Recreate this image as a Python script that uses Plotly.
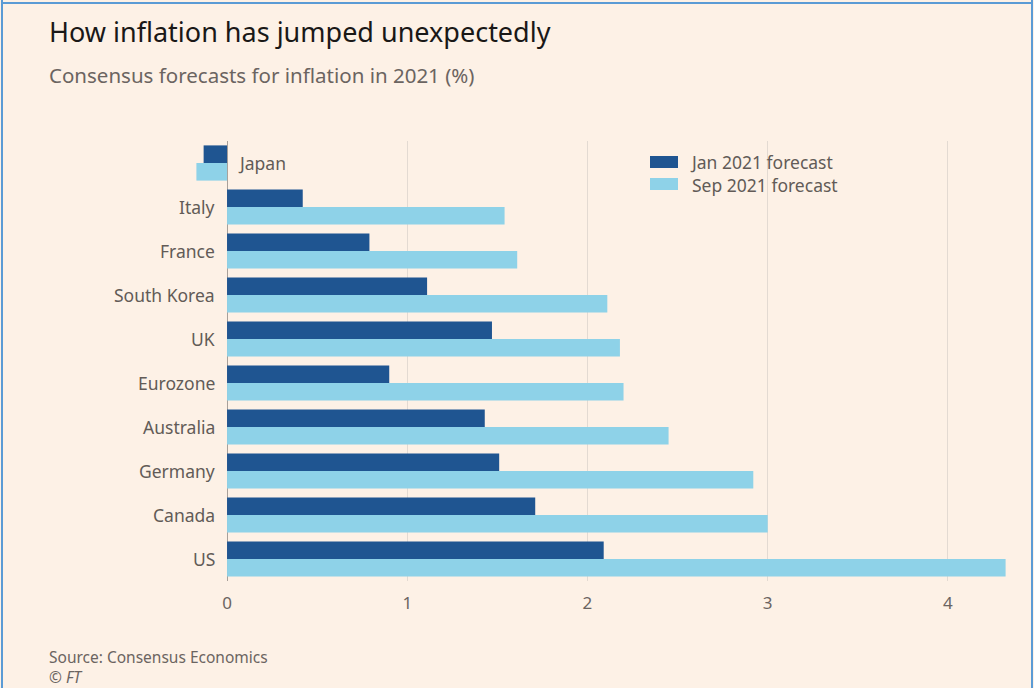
import plotly.graph_objects as go

countries = ["Japan", "Italy", "France", "South Korea", "UK", "Eurozone",
             "Australia", "Germany", "Canada", "US"]
jan_2021 = [-0.13, 0.42, 0.79, 1.11, 1.47, 0.90, 1.43, 1.51, 1.71, 2.09]
sep_2021 = [-0.17, 1.54, 1.61, 2.11, 2.18, 2.20, 2.45, 2.92, 3.00, 4.32]
x_ticks = [0, 1, 2, 3, 4]
series_names = ["Jan 2021 forecast", "Sep 2021 forecast"]

BG = "#FDF1E6"
DARK = "#1F5591"
LIGHT = "#8ED2E8"
FONT = "Noto Sans"
LABEL = "#625B57"

W, H = 1034, 688
L, R, T, B = 191, 23, 141, 107
pw, ph = W - L - R, H - T - B


def px(x):
    return (x - L) / pw


def py(y):
    return (H - y - B) / ph


fig = go.Figure()
fig.add_trace(go.Bar(y=countries, x=jan_2021, orientation="h", name=series_names[0],
                     marker=dict(color=DARK, line=dict(width=0)), showlegend=False))
fig.add_trace(go.Bar(y=countries, x=sep_2021, orientation="h", name=series_names[1],
                     marker=dict(color=LIGHT, line=dict(width=0)), showlegend=False))

annotations = []
for c, j in zip(countries, jan_2021):
    neg = j < 0
    annotations.append(dict(x=0, y=c, xref="x", yref="y", text=c, showarrow=False,
                            xanchor="left" if neg else "right", xshift=9 if neg else -10,
                            font=dict(size=17.5, color=LABEL, family=FONT)))

annotations += [
    dict(x=px(47), y=py(32), xref="paper", yref="paper", text="How inflation has jumped unexpectedly",
         showarrow=False, xanchor="left", yanchor="middle", font=dict(size=27, color="#1A1817", family=FONT)),
    dict(x=px(47), y=py(75), xref="paper", yref="paper", text="Consensus forecasts for inflation in 2021 (%)",
         showarrow=False, xanchor="left", yanchor="middle", font=dict(size=20.5, color="#6B6461", family=FONT)),
    dict(x=px(47), y=py(657), xref="paper", yref="paper", text="Source: Consensus Economics",
         showarrow=False, xanchor="left", yanchor="middle", font=dict(size=15.5, color="#6B6461", family=FONT)),
    dict(x=px(47), y=py(677), xref="paper", yref="paper", text="© <i>FT</i>",
         showarrow=False, xanchor="left", yanchor="middle", font=dict(size=15.5, color="#6B6461", family=FONT)),
]

# custom legend: one two-line text block plus two swatches
legend_colors = [DARK, LIGHT]
legend_rows = [162, 184]
shapes = []
for yc, col in zip(legend_rows, legend_colors):
    shapes.append(dict(type="rect", xref="paper", yref="paper", x0=px(650), x1=px(678),
                       y0=py(yc - 6), y1=py(yc + 6), fillcolor=col, line=dict(width=0)))
annotations.append(dict(x=px(688), y=py(173), xref="paper", yref="paper",
                        text="<br>".join(series_names), align="left",
                        showarrow=False, xanchor="left", yanchor="middle",
                        font=dict(size=17.5, color=LABEL, family=FONT)))

shapes += [
    dict(type="line", xref="paper", yref="paper", x0=px(2), x1=px(2),
         y0=py(H), y1=py(0), line=dict(color="#5B9BD5", width=2)),
    dict(type="line", xref="paper", yref="paper", x0=px(1032), x1=px(1032),
         y0=py(H), y1=py(0), line=dict(color="#5B9BD5", width=2)),
    dict(type="line", xref="paper", yref="paper", x0=px(2), x1=px(1032),
         y0=py(3), y1=py(3), line=dict(color="#5B9BD5", width=2)),
]

fig.update_layout(
    width=W, height=H,
    margin=dict(l=L, r=R, t=T, b=B, pad=0),
    paper_bgcolor=BG, plot_bgcolor=BG,
    barmode="group", bargap=0.2, bargroupgap=0,
    font=dict(family=FONT, color=LABEL),
    showlegend=False,
    xaxis=dict(range=[-0.2, 4.35], tickvals=x_ticks, ticktext=[str(t) for t in x_ticks],
               showgrid=True, gridcolor="#E3DAD2", gridwidth=1,
               zeroline=True, zerolinecolor="#A8A09A", zerolinewidth=1,
               showline=False, ticks="", tickfont=dict(size=17, color="#6B6461"),
               ticklabelstandoff=10, fixedrange=True),
    yaxis=dict(categoryorder="array", categoryarray=countries, autorange="reversed",
               showticklabels=False, showgrid=False, zeroline=False, showline=False, ticks=""),
    annotations=annotations,
    shapes=shapes,
)

fig.write_html("out.html")
